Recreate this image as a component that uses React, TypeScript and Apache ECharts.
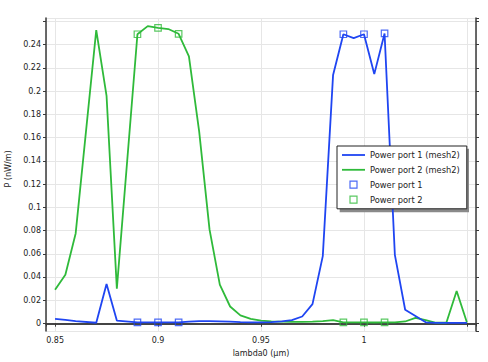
import React, { useEffect, useRef } from "react";
import * as echarts from "echarts";

const lambda = [0.85, 0.855, 0.86, 0.87, 0.875, 0.88, 0.89, 0.895, 0.9, 0.905, 0.91, 0.915, 0.92, 0.925, 0.93, 0.935, 0.94, 0.945, 0.95, 0.955, 0.96, 0.965, 0.97, 0.975, 0.98, 0.985, 0.99, 0.995, 1.0, 1.005, 1.01, 1.015, 1.02, 1.025, 1.03, 1.035, 1.04, 1.045, 1.05];
const port1Mesh2 = [0.004, 0.003, 0.002, 0.0006, 0.034, 0.0025, 0.001, 0.001, 0.001, 0.001, 0.001, 0.0015, 0.002, 0.002, 0.0018, 0.0015, 0.0012, 0.001, 0.001, 0.0012, 0.0018, 0.0028, 0.006, 0.0166, 0.058, 0.214, 0.249, 0.2457, 0.249, 0.2147, 0.2497, 0.059, 0.0118, 0.0065, 0.001, 0.0005, 0.0005, 0.0005, 0.0005];
const port2Mesh2 = [0.029, 0.042, 0.0775, 0.2525, 0.196, 0.03, 0.249, 0.256, 0.2545, 0.2535, 0.2494, 0.23, 0.165, 0.081, 0.0335, 0.0146, 0.007, 0.004, 0.0025, 0.0018, 0.0015, 0.0013, 0.0013, 0.0015, 0.002, 0.0028, 0.001, 0.001, 0.001, 0.0008, 0.001, 0.001, 0.0017, 0.0048, 0.0028, 0.0006, 0.0006, 0.028, 0.0008];
const markerLambda = [0.89, 0.9, 0.91, 0.99, 1.0, 1.01];
const port1Markers = [0.001, 0.001, 0.001, 0.249, 0.249, 0.2497];
const port2Markers = [0.249, 0.2545, 0.2494, 0.001, 0.001, 0.001];
const xTickLabels = ["0.85", "0.9", "0.95", "1"];
const yTickLabels = ["0", "0.02", "0.04", "0.06", "0.08", "0.1", "0.12", "0.14", "0.16", "0.18", "0.2", "0.22", "0.24"];

const BLUE = "#1f45f2";
const GREEN = "#2fba3a";
const FONT = "DejaVu Sans";
const AXIS = "#3a3a3a";

const xMin = 0.8456;
const xMax = 1.0544;
const yMin = -0.0065;
const yMax = 0.263;

const fmt = (v: number) => String(parseFloat(v.toFixed(3)));

export default function App() {
  const ref = useRef<HTMLDivElement>(null);
  useEffect(() => {
    if (!ref.current) return;
    const chart = echarts.init(ref.current, undefined, { renderer: "svg" });
    const pairs = (xs: number[], ys: number[]) => xs.map((x, i) => [x, ys[i]]);
    const baseX = {
      type: "value" as const,
      min: xMin,
      max: xMax,
      splitNumber: 4,
      axisLine: { show: true, lineStyle: { color: AXIS, width: 1.5 } },
    };
    const baseY = {
      type: "value" as const,
      min: yMin,
      max: yMax,
      splitNumber: 13,
      axisLine: { show: true, lineStyle: { color: AXIS, width: 1.5 } },
    };
    chart.setOption({
      animation: false,
      textStyle: { fontFamily: FONT },
      grid: { left: 46, top: 18, right: 12, bottom: 25, containLabel: false },
      xAxis: [
        {
          ...baseX,
          position: "bottom",
          name: "lambda0 (µm)",
          nameLocation: "middle",
          nameGap: 18,
          nameTextStyle: { fontFamily: FONT, fontSize: 8, color: "#222" },
          axisTick: { show: true, length: 3, lineStyle: { color: AXIS } },
          axisLabel: {
            fontFamily: FONT,
            fontSize: 8,
            color: "#222",
            margin: 5,
            showMinLabel: false,
            showMaxLabel: false,
            formatter: (v: number) => (xTickLabels.includes(fmt(v)) ? fmt(v) : ""),
          },
          splitLine: { show: true, lineStyle: { color: "#e6e6e6", width: 1 } },
        },
        {
          ...baseX,
          position: "top",
          axisTick: { show: true, inside: true, length: 3, lineStyle: { color: AXIS } },
          axisLabel: { show: false },
          splitLine: { show: false },
        },
      ],
      yAxis: [
        {
          ...baseY,
          position: "left",
          axisTick: { show: true, length: 3, lineStyle: { color: AXIS } },
          axisLabel: {
            fontFamily: FONT,
            fontSize: 8,
            color: "#222",
            margin: 5,
            showMinLabel: false,
            showMaxLabel: false,
            formatter: (v: number) => (yTickLabels.includes(fmt(v)) ? fmt(v) : ""),
          },
          splitLine: { show: true, lineStyle: { color: "#e6e6e6", width: 1 } },
        },
        {
          ...baseY,
          position: "right",
          axisTick: { show: true, length: 3, lineStyle: { color: AXIS } },
          axisLabel: { show: false },
          splitLine: { show: false },
        },
      ],
      legend: {
        orient: "vertical",
        left: 337,
        top: 146,
        padding: [5, 7, 5, 5],
        itemWidth: 23,
        itemHeight: 7,
        itemGap: 6.8,
        backgroundColor: "#ffffff",
        borderColor: "#222",
        borderWidth: 1,
        borderRadius: 0,
        textStyle: { fontFamily: FONT, fontSize: 8.3, color: "#222" },
        data: [
          { name: "Power port 1 (mesh2)", icon: "path://M0,0H23V1.8H0Z", itemStyle: { color: BLUE, borderWidth: 0 } },
          { name: "Power port 2 (mesh2)", icon: "path://M0,0H23V1.8H0Z", itemStyle: { color: GREEN, borderWidth: 0 } },
          { name: "Power port 1", icon: "path://M0,0H10V10H0Z", itemStyle: { color: "rgba(255,255,255,0)", borderColor: BLUE, borderWidth: 1.2 } },
          { name: "Power port 2", icon: "path://M0,0H10V10H0Z", itemStyle: { color: "rgba(255,255,255,0)", borderColor: GREEN, borderWidth: 1.2 } },
        ],
      },
      graphic: [
        {
          type: "rect",
          z: 3,
          shape: { x: 339.7, y: 148.7, width: 129.3, height: 63.6 },
          style: { fill: "#8a8a8a" },
        },
        {
          type: "text",
          x: 8,
          y: 169,
          rotation: Math.PI / 2,
          style: { text: "P (nW/m)", fontFamily: FONT, fontSize: 8, fill: "#222", align: "center", verticalAlign: "middle" },
        },
      ],
      series: [
        {
          name: "Power port 1 (mesh2)",
          type: "line",
          data: pairs(lambda, port1Mesh2),
          symbol: "none",
          lineStyle: { color: BLUE, width: 1.8 },
          itemStyle: { color: BLUE },
          z: 3,
        },
        {
          name: "Power port 2 (mesh2)",
          type: "line",
          data: pairs(lambda, port2Mesh2),
          symbol: "none",
          lineStyle: { color: GREEN, width: 1.8 },
          itemStyle: { color: GREEN },
          z: 2,
        },
        {
          name: "Power port 1",
          type: "scatter",
          data: pairs(markerLambda, port1Markers),
          symbol: "rect",
          symbolSize: 6.5,
          itemStyle: { color: "rgba(255,255,255,0)", borderColor: BLUE, borderWidth: 1.2 },
          z: 4,
        },
        {
          name: "Power port 2",
          type: "scatter",
          data: pairs(markerLambda, port2Markers),
          symbol: "rect",
          symbolSize: 6.5,
          itemStyle: { color: "rgba(255,255,255,0)", borderColor: GREEN, borderWidth: 1.2 },
          z: 4,
        },
      ],
    });
    return () => chart.dispose();
  }, []);
  return <div ref={ref} style={{ width: 488, height: 362, position: "absolute", left: 0, top: 0 }} />;
}
